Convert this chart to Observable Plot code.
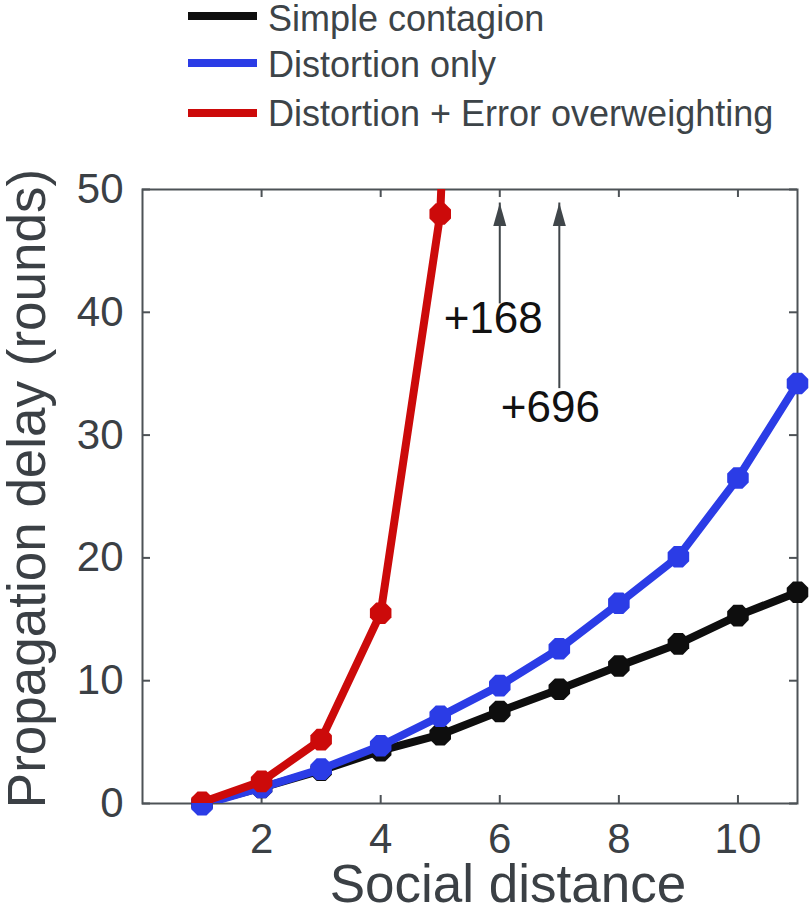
<!DOCTYPE html>
<html><head><meta charset="utf-8">
<script src="https://cdn.jsdelivr.net/npm/d3@7"></script>
<script src="https://cdn.jsdelivr.net/npm/@observablehq/plot@0.6"></script>
<style>
body{margin:0;background:#fff;font-family:"Liberation Sans",Arial,sans-serif;}
#legend{position:relative;height:140px;width:810px;}
.sw{position:absolute;left:188px;width:69px;height:8px;}
.lab{position:absolute;left:268px;font-size:36px;line-height:36px;color:#3d4448;white-space:nowrap;}
#chart svg{display:block}
</style></head><body>
<div id="legend"></div><div id="chart"></div>
<script>
// ---- data ----
const seriesNames = ["Simple contagion", "Distortion only", "Distortion + Error overweighting"];
const seriesColors = ["#0e0e0e", "#2b3ce6", "#cc0a0a"];
const distance = [1, 2, 3, 4, 5, 6, 7, 8, 9, 10, 11];
const simpleContagion = [0, 1.3, 2.7, 4.3, 5.6, 7.5, 9.3, 11.2, 13.0, 15.3, 17.2];
const distortionOnly = [-0.1, 1.3, 2.8, 4.7, 7.1, 9.6, 12.6, 16.3, 20.1, 26.5, 34.2];
const errorDistance = [1, 2, 3, 4, 5, 6, 7];
const distortionError = [0.1, 1.8, 5.2, 15.5, 48.0, 168, 696];
const xTicks = [2, 4, 6, 8, 10];
const yTicks = [0, 10, 20, 30, 40, 50];
const annX = [6, 7];
const annTail = [41.5, 34.6];
const annTip = [48.9, 48.9];
const annLabels = ["+168", "+696"];
const annLabelX = [5.89, 6.85];
const annLabelY = [39.5, 32.2];

// ---- legend (HTML) ----
const legend = document.getElementById("legend");
const lineY = [16, 63, 113];
const textTop = [0.5, 46.5, 95.5];
seriesNames.forEach((n, i) => {
  const sw = document.createElement("div");
  sw.className = "sw"; sw.style.top = (lineY[i] - 4) + "px"; sw.style.background = seriesColors[i];
  legend.appendChild(sw);
  const lb = document.createElement("div");
  lb.className = "lab"; lb.style.top = textTop[i] + "px"; lb.textContent = n;
  legend.appendChild(lb);
});

// ---- tables ----
const rows = [
  ...distance.map((x, i) => ({s: 0, x, y: simpleContagion[i]})),
  ...distance.map((x, i) => ({s: 1, x, y: distortionOnly[i]})),
  ...errorDistance.map((x, i) => ({s: 2, x, y: distortionError[i]}))
];
const ann = annX.map((x, i) => ({x, tail: annTail[i], tip: annTip[i], label: annLabels[i], lx: annLabelX[i], ly: annLabelY[i]}));

const octagon = {draw(ctx, size) {
  const R = Math.sqrt(size / Math.PI) * 1.06;
  for (let i = 0; i < 8; i++) {
    const a = Math.PI / 8 + i * Math.PI / 4;
    const px = R * Math.cos(a), py = R * Math.sin(a);
    i ? ctx.lineTo(px, py) : ctx.moveTo(px, py);
  }
  ctx.closePath();
}};
const arrowHead = {draw(ctx) {
  ctx.moveTo(0, 0); ctx.lineTo(6.5, 23); ctx.lineTo(-6.5, 23); ctx.closePath();
}};

const W = 810, H = 778, mT = 49, mB = 115, mL = 142, mR = 13;
const FH = H - mT - mB, FW = W - mL - mR;
const axisColor = "#4d5256", textColor = "#3b4045";

const seriesMarks = [];
[0, 1, 2].forEach(s => {
  const d = rows.filter(r => r.s === s);
  seriesMarks.push(Plot.line(d, {x: "x", y: "y", stroke: seriesColors[s], strokeWidth: 8, strokeLinejoin: "round", clip: true}));
  seriesMarks.push(Plot.dot(d, {x: "x", y: "y", r: 11, symbol: octagon, fill: seriesColors[s], stroke: "none", clip: s === 2}));
});

const chart = Plot.plot({
  width: W, height: H, marginTop: mT, marginBottom: mB, marginLeft: mL, marginRight: mR,
  x: {domain: [0, 11]},
  y: {domain: [0, 50]},
  style: {fontFamily: "'Liberation Sans', Arial, sans-serif", background: "white", overflow: "visible"},
  marks: [
    Plot.frame({stroke: axisColor, strokeWidth: 2}),
    Plot.tickX(xTicks, {x: d => d, insetTop: FH - 8, stroke: axisColor, strokeWidth: 2}),
    Plot.tickX(xTicks, {x: d => d, insetBottom: FH - 8, stroke: axisColor, strokeWidth: 2}),
    Plot.tickY(yTicks, {y: d => d, insetRight: FW - 8, stroke: axisColor, strokeWidth: 2}),
    Plot.tickY(yTicks, {y: d => d, insetLeft: FW - 8, stroke: axisColor, strokeWidth: 2}),
    Plot.axisX({ticks: xTicks, tickSize: 0, tickPadding: 20, fontSize: 42, color: textColor, label: null}),
    Plot.axisY({ticks: yTicks, tickSize: 0, tickPadding: 19, fontSize: 42, color: textColor, label: null}),
    Plot.text(["Social distance"], {text: d => d, frameAnchor: "bottom", textAnchor: "middle", lineAnchor: "middle", dx: 38, dy: 82, fontSize: 53, fill: textColor}),
    Plot.text(["Propagation delay (rounds)"], {text: d => d, frameAnchor: "left", textAnchor: "middle", lineAnchor: "middle", rotate: -90, dx: -114, dy: -8, fontSize: 53, fill: textColor}),
    Plot.ruleX(ann, {x: "x", y1: "tail", y2: "tip", insetTop: 10, stroke: "#40464a", strokeWidth: 2}),
    Plot.dot(ann, {x: "x", y: "tip", symbol: arrowHead, r: 5, fill: "#40464a", stroke: "none"}),
    Plot.text(ann, {x: "lx", y: "ly", text: "label", fontSize: 44, fill: "#111"}),
    ...seriesMarks
  ]
});
document.getElementById("chart").appendChild(chart);
</script>
</body></html>
